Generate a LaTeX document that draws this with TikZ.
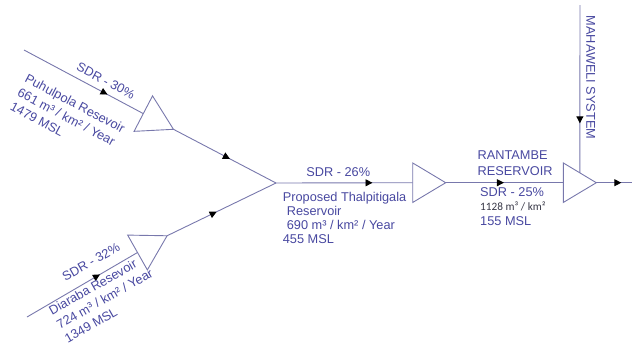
\documentclass[tikz,border=0pt]{standalone}
\usepackage{fontspec}
\setmainfont{Liberation Sans}
\newfontfamily\carl{Carlito}
\usetikzlibrary{shapes.geometric,arrows.meta,decorations.markings}
\definecolor{txt}{RGB}{72,72,160}
\definecolor{wire}{RGB}{120,120,172}
\definecolor{darktxt}{RGB}{55,55,70}
\begin{document}
\begin{tikzpicture}[x=1bp,y=-1bp,
  amp/.style={isosceles triangle, isosceles triangle stretches, draw=wire, line width=0.9bp,
              minimum width=40bp, minimum height=34bp, inner sep=0pt, outer sep=0pt, anchor=lower side},
  ampR/.style={amp, minimum width=39.5bp, minimum height=33bp},
  wireline/.style={draw=wire, line width=0.9bp},
  midarr/.style={postaction={decorate,decoration={markings,
      mark=at position #1 with {\arrow{Triangle[length=7bp,width=7bp,color=black]}}}}},
  lbl/.style={text=txt, inner sep=0pt, font=\fontsize{12.8}{16}\selectfont},
]
\useasboundingbox (0,0) rectangle (634,349);

% reservoirs (triangles)
\node[amp, rotate=-27.5] (T1) at (143.3,113.6) {};
\node[amp, rotate=29.5] (T2) at (137.5,252.5) {};
\node[ampR] (T3) at (412.7,182.7) {};
\node[ampR] (T4) at (563.3,182.7) {};

% free ends and junction
\coordinate (uin) at (24,50);
\coordinate (lin) at (27,317);
\coordinate (J) at (276,183);
\coordinate (mtop) at (580,5);
\coordinate (out) at (632,182.7);

% connectors
\draw[wireline, midarr=0.70] (uin) -- (T1.lower side);
\draw[wireline, midarr=0.55] (T1.apex) -- (J);
\draw[wireline, midarr=0.66] (lin) -- (T2.lower side);
\draw[wireline, midarr=0.455] (T2.apex) -- (J);
\draw[wireline, midarr=0.706] (J) -- (T3.lower side);
\draw[wireline, midarr=0.495] (T3.apex) -- (T4.lower side);
\draw[wireline, midarr=0.70] (T4.apex) -- (out);
\draw[wireline, midarr=0.705] (mtop) -- (T4.left side);

% labels
\node[lbl, rotate=-28] (sdr30) at (105.8,80.8) {SDR - 30\%};
\node[lbl, rotate=-28, align=left] (puh) at (67.7,117.4)
  {Puhulpola Resevoir\\661 m³ / km² / Year\\1479 MSL};
\node[lbl, rotate=29.5] (sdr32) at (91,262) {SDR - 32\%};
\node[lbl, rotate=29.5, align=left] (dia) at (104.7,298.7)
  {Diaraba Resevoir\\724 m³ / km² / Year\\1349 MSL};

\node[lbl] (sdr26) at (338.3,171.7) {SDR - 26\%};
\node[lbl, anchor=north west, align=left, font=\fontsize{12.8}{14}\selectfont] (thal) at (282.7,192.3)
  {Proposed Thalpitigala\\\hspace*{4bp}Reservoir\\\hspace*{4bp}690 m³ / km² / Year\\455 MSL};

\node[lbl, anchor=north west, align=left, font=\fontsize{12.8}{15.5}\selectfont] (ran) at (477.5,150.8)
  {RANTAMBE\\RESERVOIR};
\node[lbl, anchor=north west, align=left, font=\fontsize{12.8}{14.5}\selectfont] (sdr25) at (480,187.4)
  {SDR - 25\%\\{\carl\fontsize{11.3}{14.5}\selectfont\color{darktxt}1128 m³ / km²}\\155 MSL};

\node[lbl, rotate=-90] (mah) at (590.7,77.5) {MAHAWELI SYSTEM};
\end{tikzpicture}
\end{document}
